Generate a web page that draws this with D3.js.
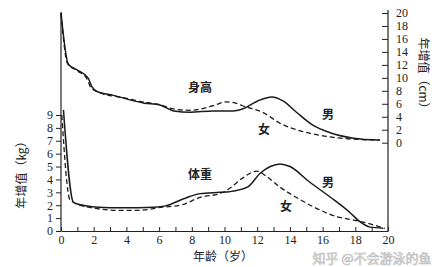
<!DOCTYPE html>
<html>
<head>
<meta charset="utf-8">
<script src="https://cdn.jsdelivr.net/npm/d3@7"></script>
<style>
  body { margin: 0; background: #fff; }
  svg { display: block; }
  .tick text { font-family: "Liberation Serif", "DejaVu Serif", serif; font-size: 12px; fill: #222; }
  .tick line, .domain { stroke: #222; }
  .cjk { font-family: "Noto Sans CJK SC", sans-serif; fill: #222; }
</style>
</head>
<body>
<svg id="chart"></svg>
<script>
// ages (years) and annual increments
const heightBoyAge = [0, 0.45, 1.0, 1.65, 1.9, 2.2, 3.2, 5.1, 6.05, 6.9, 7.9, 9.3, 10.5, 11.1, 12.0, 12.9, 13.6, 14.4, 15.4, 16.5, 17.9, 19.5];
const heightBoy    = [20, 12.1, 11.2, 10.0, 8.6, 7.9, 7.3, 6.1, 5.8, 4.9, 4.7, 4.9, 4.9, 5.2, 6.4, 7.05, 6.4, 4.7, 2.7, 1.5, 0.7, 0.4];
const heightGirlAge = [0, 0.4, 1.0, 1.6, 1.85, 2.5, 3.7, 5.0, 6.0, 6.9, 7.9, 9.3, 10.1, 10.8, 11.1, 12.4, 13.4, 14.4, 15.7, 17.1, 19.5];
const heightGirl    = [20, 12.2, 11.1, 9.8, 8.4, 7.6, 7.0, 6.3, 5.9, 5.2, 5.0, 5.7, 6.3, 6.0, 5.7, 4.6, 3.0, 2.0, 1.2, 0.7, 0.4];
const weightBoyAge = [0.15, 0.75, 1.0, 2.3, 3.7, 5.7, 6.4, 7.5, 8.5, 9.7, 10.3, 11.4, 12.2, 12.8, 13.4, 14.0, 15.2, 16.5, 17.7, 18.3, 18.9, 19.7];
const weightBoy    = [9.4, 2.25, 2.1, 1.85, 1.8, 1.85, 1.95, 2.5, 2.9, 3.0, 3.05, 3.4, 4.5, 5.0, 5.2, 5.0, 3.8, 2.6, 1.4, 0.7, 0.3, 0.22];
const weightGirlAge = [0.05, 0.55, 1.65, 3.7, 4.7, 6.2, 7.3, 8.5, 9.8, 10.3, 11.1, 11.6, 12.0, 12.5, 13.4, 14.4, 15.4, 16.9, 17.9, 18.9, 19.8];
const weightGirl    = [9.0, 2.4, 1.85, 1.6, 1.6, 1.85, 2.0, 2.6, 2.95, 3.3, 4.1, 4.5, 4.65, 4.3, 3.4, 2.6, 1.9, 1.1, 0.85, 0.55, 0.2];

const ageTicks = d3.range(0, 21, 1);
const kgTicks = d3.range(0, 10, 1);
const cmTicks = d3.range(0, 21, 2);

const width = 445, height = 267;
const svg = d3.select('#chart').attr('width', width).attr('height', height);

const x = d3.scaleLinear().domain([0, 20]).range([61, 388]);
const yKg = d3.scaleLinear().domain([0, 9]).range([231, 115]);
const yCm = d3.scaleLinear().domain([0, 20]).range([142.7, 13]);

// axes
const gx = svg.append('g').attr('transform', `translate(0,${yKg(0)})`)
  .call(d3.axisBottom(x).tickValues(ageTicks).tickSizeInner(-4).tickSizeOuter(0)
    .tickFormat(d => d % 2 === 0 ? d : ''));
gx.selectAll('.tick text').attr('dy', '0.85em');
gx.select('.domain').attr('stroke-width', 1.2);

const gl = svg.append('g').attr('transform', `translate(${x(0)},0)`)
  .call(d3.axisLeft(yKg).tickValues(kgTicks).tickSize(5).tickPadding(3));
gl.select('.domain').remove();

const gr = svg.append('g').attr('transform', `translate(${x(20)},0)`)
  .call(d3.axisRight(yCm).tickValues(cmTicks).tickSizeInner(-6).tickSizeOuter(0).tickPadding(8));
gr.select('.domain').remove();

// long vertical axis lines
svg.append('line').attr('x1', x(0)).attr('x2', x(0)).attr('y1', 12).attr('y2', yKg(0))
  .attr('stroke', '#222').attr('stroke-width', 1.2);
svg.append('line').attr('x1', x(20)).attr('x2', x(20)).attr('y1', 10).attr('y2', yKg(0))
  .attr('stroke', '#222').attr('stroke-width', 1.2);

// curves
const lineH = d3.line().x(d => x(d[0])).y(d => yCm(d[1])).curve(d3.curveMonotoneX);
const lineW = d3.line().x(d => x(d[0])).y(d => yKg(d[1])).curve(d3.curveMonotoneX);

const series = [
  { line: lineH, ages: heightBoyAge, vals: heightBoy, dash: null },
  { line: lineH, ages: heightGirlAge, vals: heightGirl, dash: '5,3' },
  { line: lineW, ages: weightBoyAge, vals: weightBoy, dash: null },
  { line: lineW, ages: weightGirlAge, vals: weightGirl, dash: '5,3' }
];

series.forEach(s => {
  svg.append('path')
    .datum(d3.zip(s.ages, s.vals))
    .attr('d', s.line)
    .attr('fill', 'none')
    .attr('stroke', '#1a1a1a')
    .attr('stroke-width', s.dash ? 1.3 : 1.5)
    .attr('stroke-dasharray', s.dash);
});

// labels in the plot
const labels = [
  { t: '身高', x: 200, y: 88 },
  { t: '男', x: 328, y: 115 },
  { t: '女', x: 264, y: 130 },
  { t: '体重', x: 200, y: 175 },
  { t: '男', x: 328, y: 183 },
  { t: '女', x: 286, y: 207 }
];
svg.selectAll('.lbl').data(labels).enter().append('text')
  .attr('class', 'lbl cjk')
  .attr('x', d => d.x).attr('y', d => d.y)
  .attr('dy', '0.35em')
  .attr('text-anchor', 'middle')
  .style('font-size', '12px')
  .style('font-weight', 'bold')
  .text(d => d.t);

// axis titles
svg.append('text').attr('class', 'cjk')
  .attr('transform', 'translate(223,257)')
  .attr('text-anchor', 'middle').attr('dy', '0.35em')
  .style('font-size', '12px')
  .text('年龄（岁）');

svg.append('text').attr('class', 'cjk')
  .attr('transform', 'translate(22,172) rotate(-90)')
  .attr('text-anchor', 'middle').attr('dy', '0.35em')
  .style('font-size', '12px')
  .text('年增值（kg）');

svg.append('text').attr('class', 'cjk')
  .attr('transform', 'translate(423,76) rotate(90)')
  .attr('text-anchor', 'middle').attr('dy', '0.35em')
  .style('font-size', '12px')
  .text('年增值（cm）');

// watermark
svg.append('text')
  .attr('x', 372).attr('y', 258)
  .attr('dy', '0.35em')
  .attr('text-anchor', 'middle')
  .style('font-family', '"Noto Sans CJK SC", sans-serif')
  .style('font-size', '13px')
  .attr('fill', '#e6e6e6')
  .attr('stroke', '#bdbdbd')
  .attr('stroke-width', 0.6)
  .text('知乎 @不会游泳的鱼');
</script>
</body>
</html>
